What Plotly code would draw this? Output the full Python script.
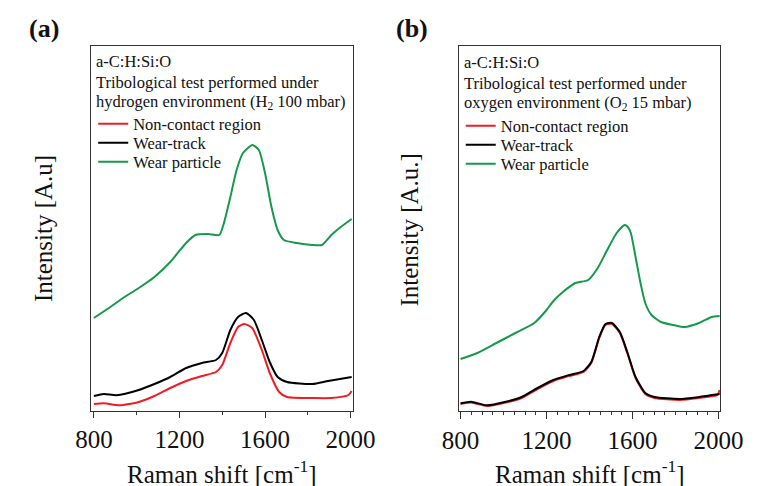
import plotly.graph_objects as go

# ---------------- data (arbitrary intensity units) ----------------
# Panel (a): hydrogen environment
a_particle_x = [800, 877, 936, 1010, 1083, 1157, 1231, 1275, 1334, 1386, 1408, 1438, 1467, 1497,
                1541, 1571, 1600, 1630, 1659, 1688, 1748, 1821, 1866, 1910, 1954, 2005]
a_particle_y = [93, 104, 113, 123, 134, 149, 168, 176, 177, 176, 188, 214, 241, 258,
                266, 261, 238, 204, 181, 171, 168, 166, 166, 176, 184, 192]

a_track_x = [800, 847, 906, 1010, 1083, 1157, 1231, 1305, 1371, 1400, 1438, 1474, 1511, 1548,
             1585, 1622, 1659, 1703, 1821, 1895, 2005]
a_track_y = [15, 17, 15.7, 21, 27, 34, 43, 48, 51, 58, 81, 94, 98, 91,
             71, 49, 34, 29, 27, 30, 34]

a_noncontact_x = [800, 847, 920, 1010, 1083, 1157, 1231, 1305, 1371, 1400, 1438, 1474, 1503, 1540,
                  1585, 1622, 1666, 1703, 1821, 1910, 1990, 2005]
a_noncontact_y = [7, 7.7, 5.7, 9, 15, 23, 30, 35, 39, 46, 68, 84, 87, 83,
                  61, 38, 19, 14, 13, 13, 16, 20]

# Panel (b): oxygen environment
b_particle_x = [800, 878, 967, 1055, 1143, 1200, 1232, 1276, 1334, 1394, 1438, 1482, 1526, 1563,
                1578, 1592, 1614, 1637, 1659, 1688, 1732, 1791, 1842, 1909, 1968, 2005]
b_particle_y = [52, 58, 68, 78, 88, 101, 110, 119, 128, 131, 143, 161, 178, 186,
                184, 178, 154, 128, 108, 96, 89, 86, 84, 88, 94, 95]

b_track_x = [800, 849, 922, 1011, 1084, 1158, 1232, 1305, 1372, 1408, 1445, 1474, 1504, 1541,
             1577, 1614, 1659, 1703, 1820, 1909, 2005]
b_track_y = [7.7, 9.3, 5.7, 9.3, 14, 23, 31, 36, 40, 49, 74, 87, 88, 79,
             58, 34, 18, 14, 12, 14, 17]

b_noncontact_x = [800, 849, 922, 1011, 1084, 1158, 1232, 1305, 1372, 1408, 1445, 1474, 1504, 1541,
                  1577, 1614, 1659, 1703, 1820, 1909, 1995, 2005]
b_noncontact_y = [7, 8.5, 5, 8.5, 13, 22, 30, 35, 39, 48, 73, 86, 87, 78,
                  57, 33, 17, 13, 11, 13, 16, 21]

series_names = ["Non-contact region", "Wear-track", "Wear particle"]
x_ticks = [800, 1200, 1600, 2000]

RED = "#ee1d23"
BLACK = "#000000"
GREEN = "#16994a"
FONT = "Liberation Serif"
TXT = "#111111"

# the page body keeps its default 8px margin, so the figure is made 8px smaller
# and every reference position is shifted by 8px
OFF = 8
W, H = 766 - OFF, 486 - OFF

def px_x(p):
    return (p - OFF) / W

def px_y(p):
    return 1 - (p - OFF) / H

fig = go.Figure()

# one single-entry legend per series so that the entry spacing matches the original
panels = [
    ("x", "y", ["legend", "legend2", "legend3"], 80, [124, 143, 162],
     [(a_noncontact_x, a_noncontact_y), (a_track_x, a_track_y), (a_particle_x, a_particle_y)]),
    ("x2", "y2", ["legend4", "legend5", "legend6"], 468, [126, 145, 164],
     [(b_noncontact_x, b_noncontact_y), (b_track_x, b_track_y), (b_particle_x, b_particle_y)]),
]
colors = [RED, BLACK, GREEN]

legend_layout = {}
for xa, ya, lgs, lx, lys, data in panels:
    for (xs, ys), name, col, lg, ly in zip(data, series_names, colors, lgs, lys):
        fig.add_trace(go.Scatter(
            x=xs, y=ys, name=name, mode="lines",
            line=dict(color=col, width=2, shape="spline", smoothing=0.6),
            xaxis=xa, yaxis=ya, legend=lg, showlegend=True,
        ))
        legend_layout[lg] = dict(
            x=px_x(lx), y=px_y(ly), xanchor="left", yanchor="middle",
            bgcolor="rgba(0,0,0,0)", borderwidth=0,
            font=dict(size=16.5, family=FONT, color=TXT), itemwidth=30,
        )

y_dom = [px_y(411), px_y(46)]

axis_common = dict(
    showline=True, mirror=True, linecolor="#333333", linewidth=1,
    showgrid=False, zeroline=False,
)

fig.update_layout(
    width=W, height=H,
    margin=dict(l=0, r=0, t=0, b=0),
    paper_bgcolor="white", plot_bgcolor="white",
    font=dict(family=FONT, color=TXT),
    xaxis=dict(domain=[px_x(78), px_x(354)], range=[788, 2010], anchor="y",
               tickvals=x_ticks, ticks="outside", ticklen=6, tickcolor="#333333",
               tickfont=dict(size=25, family=FONT, color=TXT),
               minor=dict(tickvals=[1000, 1400, 1800], ticks="outside", ticklen=3, tickcolor="#333333"),
               **axis_common),
    yaxis=dict(domain=y_dom, range=[0, 365], anchor="x", showticklabels=False, ticks="",
               **axis_common),
    xaxis2=dict(domain=[px_x(466), px_x(742)], range=[792, 2008], anchor="y2",
                tickvals=x_ticks, ticks="outside", ticklen=7, tickcolor="#333333",
                tickfont=dict(size=25, family=FONT, color=TXT),
                minor=dict(dtick=50, tick0=800, ticks="outside", ticklen=3, tickcolor="#333333"),
                **axis_common),
    yaxis2=dict(domain=y_dom, range=[0, 365], anchor="x2", showticklabels=False, ticks="",
                **axis_common),
    **legend_layout,
)

ann = []
def text(x, y, s, size, xanchor="left", angle=0):
    ann.append(dict(x=px_x(x), y=px_y(y), xref="paper", yref="paper", text=s,
                    showarrow=False, xanchor=xanchor, yanchor="middle", textangle=angle,
                    font=dict(size=size, family=FONT, color=TXT)))

# panel labels
text(10, 29, "<b>(a)</b>", 26)
text(398, 29, "<b>(b)</b>", 26)
# text inside the frames
text(81, 61, "a-C:H:Si:O", 16.5)
text(81, 82, "Tribological test performed under", 16.5)
text(81, 102, "hydrogen environment (H<sub>2</sub> 100 mbar)", 16.5)
text(469, 62, "a-C:H:Si:O", 16.5)
text(469, 83, "Tribological test performed under", 16.5)
text(469, 103, "oxygen environment (O<sub>2</sub> 15 mbar)", 16.5)
# axis titles
text(216, 472, "Raman shift [cm<sup>-1</sup>]", 25, xanchor="center")
text(604, 472, "Raman shift [cm<sup>-1</sup>]", 25, xanchor="center")
text(27, 228, "Intensity [A.u]", 25, xanchor="center", angle=-90)
text(414, 230, "Intensity [A.u.]", 25, xanchor="center", angle=-90)

fig.update_layout(annotations=ann)

fig.write_html("out.html")
